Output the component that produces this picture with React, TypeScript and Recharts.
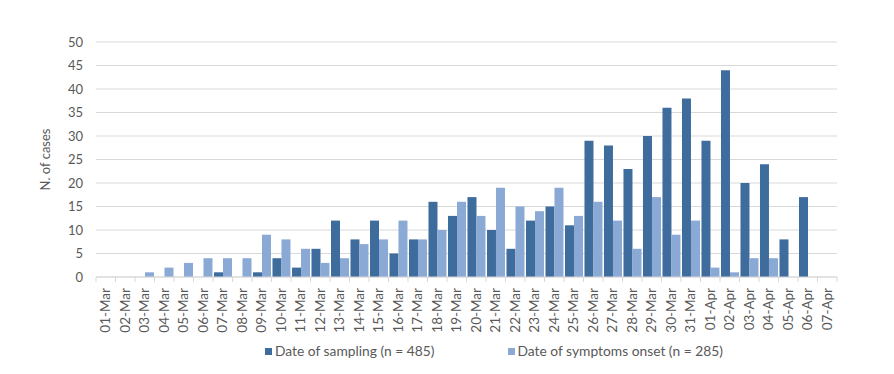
import React from "react";
import { BarChart, Bar, XAxis, YAxis, CartesianGrid, Legend } from "recharts";

const dates = [
  "01-Mar", "02-Mar", "03-Mar", "04-Mar", "05-Mar", "06-Mar", "07-Mar", "08-Mar",
  "09-Mar", "10-Mar", "11-Mar", "12-Mar", "13-Mar", "14-Mar", "15-Mar", "16-Mar",
  "17-Mar", "18-Mar", "19-Mar", "20-Mar", "21-Mar", "22-Mar", "23-Mar", "24-Mar",
  "25-Mar", "26-Mar", "27-Mar", "28-Mar", "29-Mar", "30-Mar", "31-Mar", "01-Apr",
  "02-Apr", "03-Apr", "04-Apr", "05-Apr", "06-Apr", "07-Apr",
];

const sampling = [
  0, 0, 0, 0, 0, 0, 1, 0, 1, 4, 2, 6, 12, 8, 12, 5, 8, 16, 13, 17, 10, 6, 12, 15,
  11, 29, 28, 23, 30, 36, 38, 29, 44, 20, 24, 8, 17, 0,
];

const symptoms = [
  0, 0, 1, 2, 3, 4, 4, 4, 9, 8, 6, 3, 4, 7, 8, 12, 8, 10, 16, 13, 19, 15, 14, 19,
  13, 16, 12, 6, 17, 9, 12, 2, 1, 4, 4, 0, 0, 0,
];

const yTicks = [0, 5, 10, 15, 20, 25, 30, 35, 40, 45, 50];

const seriesNames = ["Date of sampling (n = 485)", "Date of symptoms onset (n = 285)"];
const colors = ["#3e6c9c", "#8ba9d5"];

const data = dates.map((d, i) => ({ date: d, sampling: sampling[i], symptoms: symptoms[i] }));

const FONT = "Lato, 'Open Sans', sans-serif";
const TEXT = "#595959";
const GRID = "#d9d9d9";

const DateTick = (props: any) => {
  const { x, y, payload, index } = props;
  const half = payload?.offset || 9.75;
  const last = index === dates.length - 1;
  return (
    <g>
      <line x1={x - half} x2={x - half} y1={y} y2={y + 5} stroke={GRID} />
      {last && <line x1={x + half} x2={x + half} y1={y} y2={y + 5} stroke={GRID} />}
      <text
        x={0}
        y={0}
        dy="0.35em"
        textAnchor="end"
        transform={`translate(${x},${y + 11}) rotate(-90)`}
        fill={TEXT}
        fontSize={13.5}
        fontFamily={FONT}
      >
        {payload.value}
      </text>
    </g>
  );
};

const LegendContent = () => (
  <div
    style={{
      display: "flex",
      paddingLeft: 257,
      fontFamily: FONT,
      fontSize: 13.8,
      color: TEXT,
      lineHeight: "16px",
    }}
  >
    {seriesNames.map((name, i) => (
      <div key={name} style={{ display: "flex", alignItems: "center", marginRight: 73 }}>
        <span
          style={{ width: 7, height: 7, background: colors[i], display: "inline-block", marginRight: 3 }}
        />
        <span>{name}</span>
      </div>
    ))}
  </div>
);

export default function App() {
  return (
    <BarChart
      width={878}
      height={366}
      data={data}
      margin={{ top: 34, right: 49, left: 0, bottom: 15 }}
      barCategoryGap="5%"
      barGap={0}
    >
      <CartesianGrid vertical={false} stroke={GRID} strokeWidth={1} />
      <XAxis
        dataKey="date"
        interval={0}
        tick={<DateTick />}
        tickLine={false}
        tickSize={0}
        tickMargin={0}
        axisLine={{ stroke: GRID }}
        height={66}
      />
      <YAxis
        width={88}
        domain={[0, 50]}
        ticks={yTicks}
        interval={0}
        tickLine={false}
        axisLine={false}
        tickSize={0}
        tickMargin={13}
        tick={{ fill: TEXT, fontSize: 13, fontFamily: FONT }}
        label={{
          value: "N. of cases",
          angle: -90,
          position: "insideLeft",
          offset: 37,
          style: { textAnchor: "middle", fill: TEXT, fontSize: 13, fontFamily: FONT },
        }}
      />
      <Legend
        verticalAlign="bottom"
        wrapperStyle={{ left: 0, width: 878 }}
        content={<LegendContent />}
      />
      <Bar dataKey="sampling" name={seriesNames[0]} fill={colors[0]} isAnimationActive={false} />
      <Bar dataKey="symptoms" name={seriesNames[1]} fill={colors[1]} isAnimationActive={false} />
    </BarChart>
  );
}
